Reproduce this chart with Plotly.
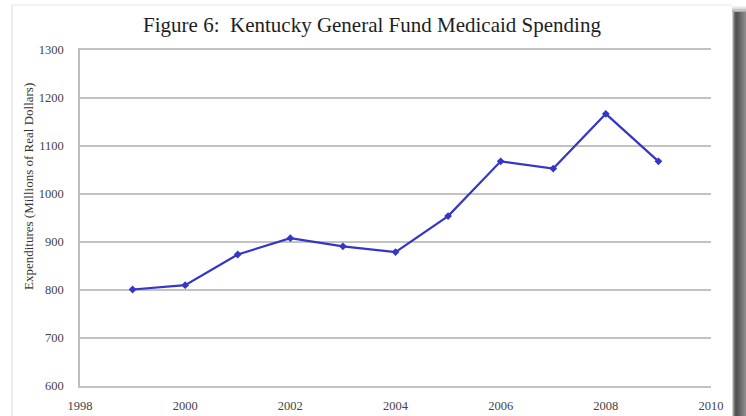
import plotly.graph_objects as go

# Kentucky general fund Medicaid spending, millions of real dollars
years = [1999, 2000, 2001, 2002, 2003, 2004, 2005, 2006, 2007, 2008, 2009]
spending = [801, 810, 874, 908, 891, 879, 954, 1068, 1053, 1167, 1068]

x_ticks = [1998, 2000, 2002, 2004, 2006, 2008, 2010]
y_ticks = [600, 700, 800, 900, 1000, 1100, 1200, 1300]

W, H = 746, 416
ML, MR, MT, MB = 80, 35, 50, 30
PW, PH = W - ML - MR, H - MT - MB


def px(xp):
    return (xp - ML) / PW


def py(yp):
    return 1 - (yp - MT) / PH


fig = go.Figure()
fig.add_trace(go.Scatter(
    x=years, y=spending, mode="lines+markers",
    line=dict(color="#3535C8", width=2.2),
    marker=dict(symbol="diamond", size=6, color="#3535C8"),
    hoverinfo="x+y", showlegend=False,
))

shapes = []
# card border
shapes.append(dict(type="line", xref="paper", yref="paper",
                   x0=px(12), x1=px(12), y0=py(5), y1=py(H),
                   line=dict(color="#e6e6e6", width=1.5), layer="below"))
shapes.append(dict(type="line", xref="paper", yref="paper",
                   x0=px(12), x1=px(732), y0=py(5), y1=py(5),
                   line=dict(color="#eeeeee", width=1.5), layer="below"))
# drop shadow on the right edge of the card
shadow = ["#d0d0d0", "#9a9a9a", "#6e6e6e", "#5a5a5a", "#545454", "#565656",
          "#5c5c5c", "#636363", "#6a6a6a", "#717171", "#787878", "#7f7f7f",
          "#868686", "#8d8d8d"]
for i, c in enumerate(shadow):
    shapes.append(dict(type="rect", xref="paper", yref="paper",
                       x0=px(732 + i), x1=px(733 + i), y0=py(12), y1=py(H),
                       fillcolor=c, line=dict(width=0), layer="below"))
for i, c in enumerate(["#f0f0f0", "#dddddd", "#c4c4c4", "#aaaaaa"]):
    shapes.append(dict(type="rect", xref="paper", yref="paper",
                       x0=px(732), x1=px(746), y0=py(6 + i * 1.5), y1=py(7.5 + i * 1.5),
                       fillcolor=c, line=dict(width=0), layer="below"))

tick_font = dict(family="Liberation Serif", size=12.5, color="#444444")

fig.update_layout(
    width=W, height=H,
    margin=dict(l=ML, r=MR, t=MT, b=MB, autoexpand=False),
    paper_bgcolor="white", plot_bgcolor="white",
    title=dict(text="Figure 6:  Kentucky General Fund Medicaid Spending",
               x=372 / W, xref="container", xanchor="center",
               y=1 - 25 / H, yref="container", yanchor="middle",
               font=dict(family="Liberation Serif", size=21, color="#1e1e1e")),
    xaxis=dict(range=[1998, 2010], tickvals=x_ticks,
               ticktext=[str(t) for t in x_ticks],
               showgrid=False, zeroline=False,
               showline=True, mirror=True, linecolor="#c2c2c2", linewidth=1.6,
               ticks="", ticklabelstandoff=7, tickfont=tick_font,
               automargin=False),
    yaxis=dict(range=[600, 1300], tickvals=y_ticks,
               showgrid=True, gridcolor="#c2c2c2", gridwidth=1.6,
               zeroline=False, showline=True, linecolor="#bdbdbd", linewidth=1.6,
               ticks="", ticklabelstandoff=12, tickfont=tick_font,
               automargin=False),
    shapes=shapes,
    annotations=[dict(text="Expenditures (Millions of Real Dollars)",
                      xref="paper", yref="paper", x=px(28), y=py(187),
                      xanchor="center", yanchor="middle", textangle=-90,
                      showarrow=False,
                      font=dict(family="Liberation Serif", size=13, color="#333333"))],
)

fig.write_html("out.html")
